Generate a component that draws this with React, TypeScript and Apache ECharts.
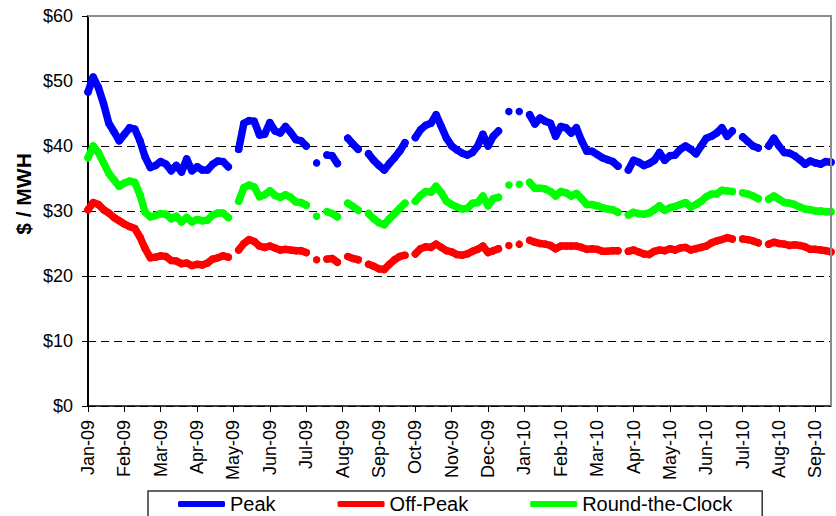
import React, { useEffect, useRef } from "react";
import * as echarts from "echarts";

// Month tick labels (one tick every POINTS_PER_MONTH samples)
const monthLabels = [
  "Jan-09", "Feb-09", "Mar-09", "Apr-09", "May-09", "Jun-09", "Jul-09", "Aug-09",
  "Sep-09", "Oct-09", "Nov-09", "Dec-09", "Jan-10", "Feb-10", "Mar-10", "Apr-10",
  "May-10", "Jun-10", "Jul-10", "Aug-10", "Sep-10",
];
const POINTS_PER_MONTH = 7;

// $ / MWH values (null = no data)
const peak = [
  48.3, 50.6, 49, 46.5, 43.5, 42.2, 40.8, 41.8, 42.8, 42.6,
  40.8, 38.3, 36.7, 37, 37.6, 37.2, 36.2, 37, 36, 38,
  36.2, 36.8, 36.3, 36.3, 37.2, 37.7, 37.6, 36.8, null, 39.5,
  43.5, 43.9, 43.8, 41.7, 41.8, 43.6, 42.3, 42, 43, 42.1,
  41, 40.8, 40, null, 37.4, null, 38.6, 38.5, 37.3, null,
  41.2, 40.3, 39.5, null, 38.8, 37.8, 37, 36.3, 37.3, 38.2,
  39.2, 40.5, null, 41.3, 42.5, 43.2, 43.5, 44.8, 43, 41.2,
  40, 39.4, 38.9, 38.6, 39, 40, 41.8, 40, 41.5, 42.3,
  null, 45.3, null, 45.3, null, 44.8, 43.4, 44.3, 43.8, 43.5,
  41.5, 43, 42.8, 42, 42.8, 40.8, 39.2, 39.2, 38.7, 38.2,
  37.9, 37.6, 36.9, null, 36.3, 37.8, 37.5, 37, 37.3, 37.8,
  39, 37.8, 38.5, 38.6, 39.5, 40, 39.5, 38.8, 40, 41.2,
  41.5, 42, 42.8, 41.5, 42.3, null, 41.4, 40.7, 40, 39.7,
  null, 40, 41.2, 40, 39, 38.9, 38.5, 37.9, 37.2, 37.7,
  37.4, 37.2, 37.6, 37.5,
];

const offPeak = [
  30.2, 31.3, 31, 30.2, 29.7, 29, 28.5, 28, 27.6, 27.3,
  26, 24.2, 22.8, 22.9, 23.1, 23, 22.4, 22.3, 21.9, 22,
  21.6, 21.8, 21.7, 22, 22.6, 22.8, 23.1, 22.9, null, 24,
  25, 25.6, 25.3, 24.6, 24.4, 24.6, 24.3, 24, 24.1, 24,
  23.9, 23.9, 23.6, null, 22.5, null, 22.6, 22.7, 22.1, null,
  23, 22.7, 22.5, null, 21.8, 21.5, 21.1, 21, 21.8, 22.5,
  23, 23.2, null, 23.4, 24.2, 24.5, 24.4, 24.9, 24.4, 23.9,
  23.7, 23.3, 23.2, 23.4, 23.8, 24.1, 24.6, 23.6, 23.9, 24.2,
  null, 24.7, null, 24.9, null, 25.5, 25.2, 25, 24.9, 24.7,
  24.2, 24.6, 24.6, 24.6, 24.6, 24.4, 24.1, 24.2, 24.1, 23.8,
  23.8, 23.9, 23.9, null, 23.8, 24, 23.7, 23.4, 23.3, 23.8,
  24, 23.9, 24.2, 24, 24.3, 24.4, 24, 24.2, 24.4, 24.6,
  25.1, 25.4, 25.6, 25.9, 25.7, null, 25.7, 25.6, 25.4, 25.1,
  null, 24.9, 25.2, 25, 24.9, 24.7, 24.8, 24.7, 24.5, 24.1,
  24.1, 24, 23.9, 23.7,
];

const roundTheClock = [
  38.2, 40, 39, 37.4, 35.8, 34.8, 33.8, 34.3, 34.6, 34.4,
  32.5, 29.8, 29.1, 29.3, 29.6, 29.5, 28.8, 29.2, 28.3, 29,
  28.3, 28.7, 28.5, 28.6, 29.4, 29.7, 29.7, 29, null, 31.5,
  33.6, 34, 33.7, 32.2, 32.5, 33.1, 32.4, 32.1, 32.5, 32.1,
  31.4, 31.3, 30.9, null, 29.2, null, 29.9, 29.6, 29.1, null,
  31.2, 30.7, 30.1, null, 29.6, 28.8, 28.2, 27.9, 28.8, 29.6,
  30.4, 31.2, null, 31.5, 32.4, 33, 32.9, 33.8, 32.8, 31.5,
  31, 30.6, 30.3, 30.4, 31.2, 31.3, 32.3, 30.8, 31.9, 32.1,
  null, 34, null, 34.1, null, 34.4, 33.5, 33.5, 33.4, 33,
  32.3, 33, 32.8, 32.3, 32.7, 31.9, 31, 31, 30.8, 30.5,
  30.3, 30.2, 29.8, null, 29.4, 29.8, 29.6, 29.5, 29.7, 30.2,
  30.8, 30.1, 30.5, 30.7, 31, 31.3, 30.6, 31, 31.5, 32.2,
  32.6, 32.6, 33.2, 33.1, 33, null, 32.8, 32.6, 32.3, 31.9,
  null, 31.8, 32.3, 31.8, 31.3, 31.2, 31, 30.6, 30.3, 30.2,
  30, 30, 29.9, 29.9,
];

const seriesNames = ["Peak", "Off-Peak", "Round-the-Clock"];
const seriesColors = ["#0000ff", "#ff0000", "#00ff00"];

const FONT = "Arial, 'Liberation Sans', sans-serif";

export default function App() {
  const ref = useRef<HTMLDivElement>(null);

  useEffect(() => {
    if (!ref.current) return;
    const chart = echarts.init(ref.current, null, { renderer: "svg" });
    const categories = peak.map((_, i) => String(i));
    const isTick = (index: number) => index % POINTS_PER_MONTH === 0;
    const lineSeries = [peak, offPeak, roundTheClock].map((data, k) => ({
      name: seriesNames[k],
      type: "line",
      data,
      connectNulls: false,
      symbol: "circle",
      symbolSize: 7.5,
      showSymbol: true,
      showAllSymbol: true,
      itemStyle: { color: seriesColors[k], borderWidth: 0 },
      lineStyle: { color: seriesColors[k], width: 7.5, cap: "round", join: "round" },
      emphasis: { disabled: true },
    }));

    chart.setOption({
      animation: false,
      grid: { left: 88, right: 5, top: 16, bottom: 110, containLabel: false },
      xAxis: {
        type: "category",
        data: categories,
        boundaryGap: false,
        axisLine: { show: true, lineStyle: { color: "#000", width: 1.5 } },
        axisTick: { show: true, interval: (i: number) => isTick(i), length: 6, lineStyle: { color: "#000" } },
        axisLabel: {
          interval: (i: number) => isTick(i),
          formatter: (v: string) => monthLabels[Number(v) / POINTS_PER_MONTH] ?? "",
          rotate: 90,
          margin: 14,
          fontSize: 18,
          fontFamily: FONT,
          color: "#000",
        },
        splitLine: { show: false },
      },
      yAxis: {
        type: "value",
        min: 0,
        max: 60,
        interval: 10,
        axisLine: { show: true, lineStyle: { color: "#000", width: 2 } },
        axisTick: { show: true, length: 6, lineStyle: { color: "#000" } },
        axisLabel: {
          formatter: (v: number) => "$" + v,
          margin: 15,
          fontSize: 18,
          fontFamily: FONT,
          color: "#000",
        },
        splitLine: { show: true, lineStyle: { color: "#000", type: [8, 5], width: 1 } },
      },
      legend: {
        data: seriesNames,
        left: 148,
        top: 491,
        orient: "horizontal",
        icon: "roundRect",
        itemWidth: 47,
        itemHeight: 6,
        itemGap: 62,
        padding: [3, 30, 12, 30],
        borderColor: "#333",
        borderWidth: 1.5,
        textStyle: { fontSize: 20, fontFamily: FONT, color: "#000" },
      },
      graphic: [
        {
          type: "polyline",
          z: 100,
          shape: { points: [[88, 16], [831, 16], [831, 406]] },
          style: { stroke: "#8c8c8c", lineWidth: 2, fill: "none" },
        },
        {
          type: "text",
          x: 23,
          y: 194,
          rotation: Math.PI / 2,
          style: {
            text: "$ / MWH",
            fontSize: 21,
            fontWeight: "bold",
            fontFamily: FONT,
            fill: "#000",
            align: "center",
            verticalAlign: "middle",
          },
        },
      ],
      series: lineSeries,
    });
    return () => chart.dispose();
  }, []);

  return (
    <div
      ref={ref}
      style={{ position: "fixed", left: 0, top: 0, width: 836, height: 516, background: "#fff" }}
    />
  );
}
